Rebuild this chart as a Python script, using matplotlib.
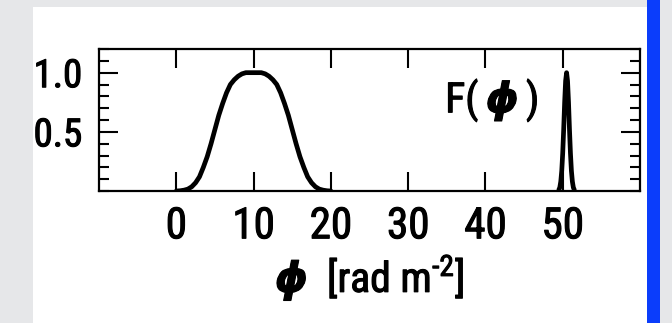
import matplotlib
matplotlib.use("Agg")
import matplotlib.pyplot as plt
import matplotlib.patheffects as pe
from matplotlib.patches import Rectangle
from matplotlib.ticker import MultipleLocator

plt.rcParams['font.family'] = ['Roboto Condensed', 'PT Sans Narrow', 'DejaVu Sans']
plt.rcParams['mathtext.fontset'] = 'custom'
plt.rcParams['mathtext.rm'] = 'Roboto Condensed'
plt.rcParams['mathtext.it'] = 'DejaVu Sans:italic:bold'

# broad component, 0..20 rad m^-2
phi_wide = [0.0, 0.5, 1.0, 1.5, 2.0, 2.5, 3.0, 3.5, 4.0, 4.5, 5.0, 5.5, 6.0, 6.5,
            7.0, 7.5, 8.0, 8.5, 9.0, 9.5, 10.0, 10.5, 11.0, 11.5, 12.0, 12.5,
            13.0, 13.5, 14.0, 14.5, 15.0, 15.5, 16.0, 16.5, 17.0, 17.5, 18.0,
            18.5, 19.0, 19.5, 20.0]
F_wide = [0.0, 0.002, 0.007, 0.016, 0.036, 0.07, 0.12, 0.20, 0.29, 0.40, 0.52,
          0.64, 0.74, 0.83, 0.90, 0.94, 0.97, 0.99, 1.0, 1.0, 1.0, 1.0, 1.0,
          0.99, 0.97, 0.94, 0.90, 0.83, 0.74, 0.64, 0.52, 0.40, 0.29, 0.20,
          0.12, 0.07, 0.036, 0.016, 0.007, 0.002, 0.0]

# narrow component near 50 rad m^-2
phi_narrow = [49.5, 49.625, 49.75, 49.875, 50.0, 50.125, 50.25, 50.375, 50.5,
              50.625, 50.75, 50.875, 51.0, 51.125, 51.25, 51.375, 51.5]
F_narrow = [0.01, 0.03, 0.08, 0.17, 0.32, 0.52, 0.75, 0.93, 1.0,
            0.93, 0.75, 0.52, 0.32, 0.17, 0.08, 0.03, 0.01]

xticks = [0, 10, 20, 30, 40, 50]
yticks = [0.5, 1.0]

# slightly heavier glyphs
bold = [pe.withStroke(linewidth=0.8, foreground='black')]

fig = plt.figure(figsize=(6.72, 3.23), dpi=100)
fig.patch.set_facecolor('#e6e7e9')
W, H = 672.0, 323.0
fig.patches.append(Rectangle((33 / W, 0), (647 - 33) / W, (H - 7) / H,
                             transform=fig.transFigure, facecolor='white',
                             edgecolor='none', zorder=-2))
fig.patches.append(Rectangle((647 / W, 0), 13 / W, 1,
                             transform=fig.transFigure, facecolor='#0b3dfb',
                             edgecolor='none', zorder=-2))

ax = fig.add_axes([99 / W, 1 - 191 / H, (640 - 99) / W, (191 - 49) / H])
ax.set_facecolor('white')

ax.plot(phi_wide, F_wide, color='black', lw=3.4, solid_capstyle='round')
ax.plot(phi_narrow, F_narrow, color='black', lw=3.4, solid_capstyle='round')

ax.set_xlim(-10, 60)
ax.set_ylim(0, 1.2)
ax.set_xticks(xticks)
ax.set_yticks(yticks)
ax.set_yticklabels(['0.5', '1.0'])
ax.yaxis.set_minor_locator(MultipleLocator(0.1))

ax.tick_params(axis='both', which='both', direction='in',
               top=True, right=True, width=1.5, color='black')
ax.tick_params(axis='both', which='major', length=14)
ax.tick_params(axis='y', which='minor', length=7)
ax.tick_params(axis='x', labelsize=31, pad=11)
ax.tick_params(axis='y', labelsize=28, pad=12)
for s in ax.spines.values():
    s.set_linewidth(1.6)
for lab in ax.get_xticklabels() + ax.get_yticklabels():
    lab.set_path_effects(bold)

xl = ax.set_xlabel(r'$\phi$  [rad m$^{\text{-}2}$]', fontsize=30, labelpad=4)
xl.set_path_effects(bold)
t = ax.text(0.64, 0.64, r'F($\,\phi\,$)', transform=ax.transAxes,
            fontsize=30, ha='left', va='center')
t.set_path_effects(bold)

fig.savefig('out.png', dpi=100, facecolor=fig.get_facecolor())
